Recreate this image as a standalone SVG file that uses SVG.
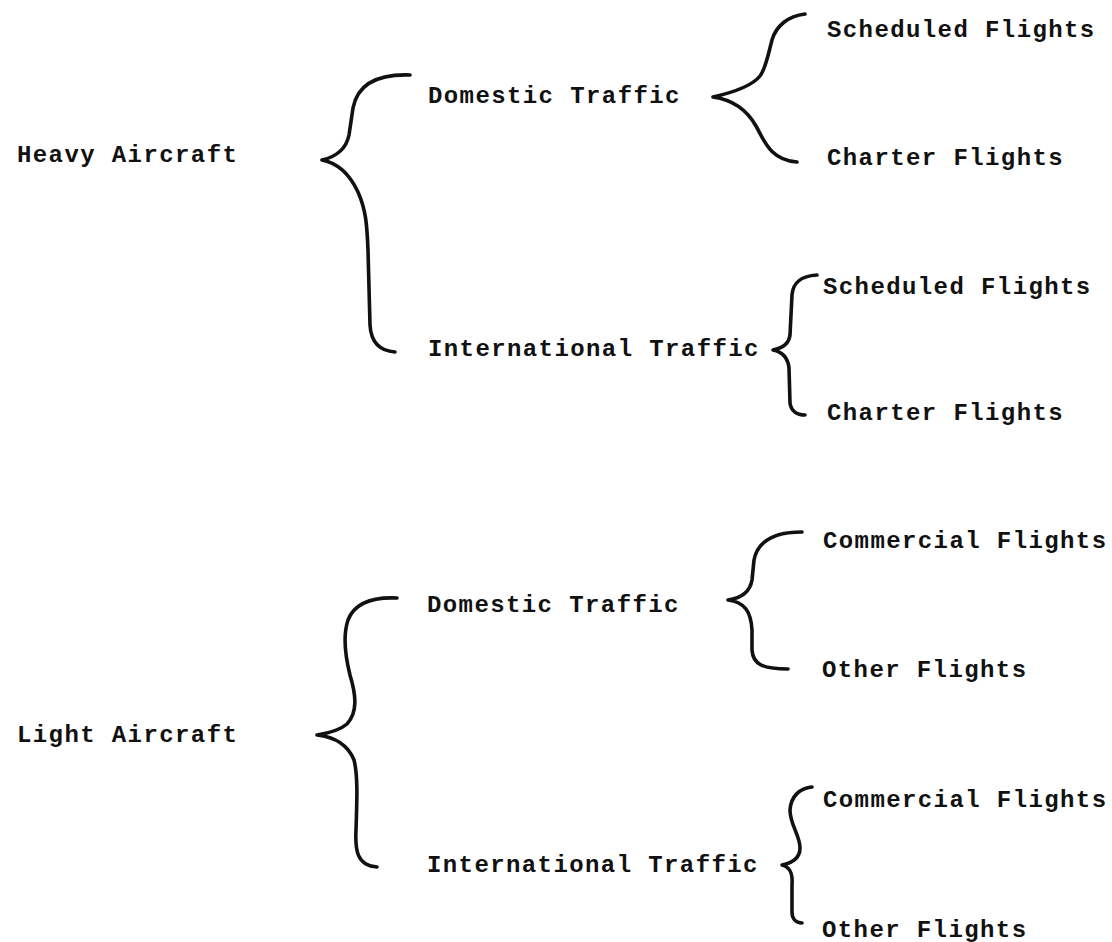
<svg xmlns="http://www.w3.org/2000/svg" width="1112" height="942" viewBox="0 0 1112 942">
<style>
text{font-family:"Liberation Mono","DejaVu Sans Mono",monospace;font-size:24px;font-weight:bold;letter-spacing:1.4px;fill:#111}
.brace{fill:none;stroke:#111;stroke-width:3.6;stroke-linecap:round;stroke-linejoin:round}
</style>
<rect width="1112" height="942" fill="#fff"/>
<g id="connectors">
<path class="brace" d="M410,75 C380,74 358,82 353,108 L349,135 C346,150 335,157 322,160 C338,163 350,175 358,192 C366,210 367,225 368,250 L370,325 C371,342 380,351 395,352"/>
<path class="brace" d="M805,14 C788,16 776,26 772,40 C768,55 766,68 760,76 C752,86 735,92 713,97 C735,100 748,112 756,126 C764,140 770,160 797,162"/>
<path class="brace" d="M817,275 C800,276 793,283 792,295 L790,335 C789,344 783,348 773,350 C783,352 788,358 789,368 L790,403 C791,411 797,415 805,415"/>
<path class="brace" d="M397,598 C375,597 355,602 348,620 C343,635 345,655 350,675 C356,695 358,712 347,724 C340,730 330,733 317,735 C335,737 348,745 354,760 C358,775 357,800 356,830 C355,850 357,866 377,867"/>
<path class="brace" d="M802,532 C775,532 758,540 754,560 L752,580 C750,592 742,598 728,600 C745,602 751,612 752,630 L752,650 C753,664 762,669 788,669"/>
<path class="brace" d="M812,787 C800,788 791,796 790,810 C790,825 800,835 800,848 C800,858 792,863 782,865 C790,867 793,873 792,885 L792,912 C792,919 796,923 802,923"/>
</g>
<g id="heavy-aircraft"><text x="17" y="162">Heavy Aircraft</text></g>
<g id="heavy-domestic"><text x="428" y="103">Domestic Traffic</text></g>
<g id="heavy-international"><text x="428" y="356">International Traffic</text></g>
<g id="heavy-dom-scheduled"><text x="827" y="37">Scheduled Flights</text></g>
<g id="heavy-dom-charter"><text x="827" y="165">Charter Flights</text></g>
<g id="heavy-int-scheduled"><text x="823" y="294">Scheduled Flights</text></g>
<g id="heavy-int-charter"><text x="827" y="420">Charter Flights</text></g>
<g id="light-aircraft"><text x="17" y="742">Light Aircraft</text></g>
<g id="light-domestic"><text x="427" y="612">Domestic Traffic</text></g>
<g id="light-international"><text x="427" y="872">International Traffic</text></g>
<g id="light-dom-commercial"><text x="823" y="548">Commercial Flights</text></g>
<g id="light-dom-other"><text x="822" y="677">Other Flights</text></g>
<g id="light-int-commercial"><text x="823" y="807">Commercial Flights</text></g>
<g id="light-int-other"><text x="822" y="937">Other Flights</text></g>
</svg>
